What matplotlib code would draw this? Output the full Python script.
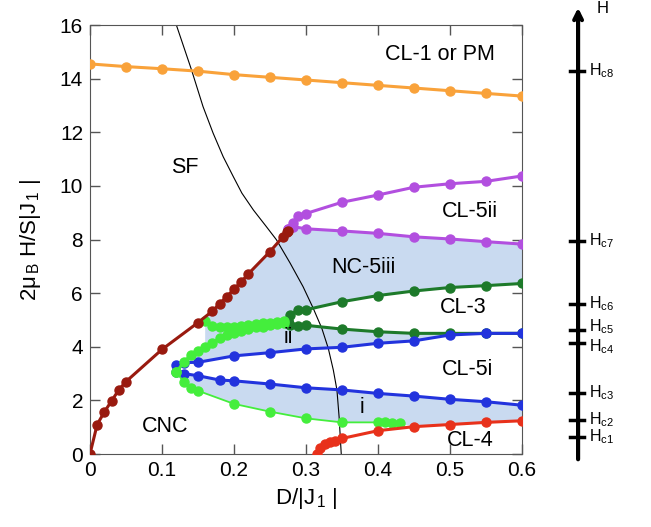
import numpy as np
import matplotlib
matplotlib.use("Agg")
import matplotlib.pyplot as plt

plt.rcParams['font.family'] = ['Liberation Sans', 'DejaVu Sans']
plt.rcParams['mathtext.fontset'] = 'custom'
plt.rcParams['mathtext.rm'] = 'Liberation Sans'
plt.rcParams['mathtext.it'] = 'Liberation Sans'

# ---- data ----
orange_x = [0, 0.05, 0.1, 0.15, 0.2, 0.25, 0.3, 0.35, 0.4, 0.45, 0.5, 0.55, 0.6]
orange_y = [14.55, 14.45, 14.37, 14.28, 14.15, 14.05, 13.95, 13.85, 13.75, 13.65, 13.55, 13.45, 13.35]

brown_x = [0, 0.01, 0.02, 0.03, 0.04, 0.05, 0.1, 0.15, 0.17, 0.18, 0.19, 0.2, 0.21, 0.22, 0.25, 0.268, 0.273, 0.275]
brown_y = [0, 1.1, 1.57, 1.98, 2.39, 2.7, 3.9, 4.9, 5.33, 5.6, 5.87, 6.15, 6.42, 6.72, 7.55, 8.1, 8.27, 8.33]

purple_top_x = [0.275, 0.282, 0.289, 0.3, 0.35, 0.4, 0.45, 0.5, 0.55, 0.6]
purple_top_y = [8.4, 8.6, 8.86, 8.97, 9.39, 9.66, 9.95, 10.08, 10.17, 10.37]
purple_low_x = [0.275, 0.282, 0.3, 0.35, 0.4, 0.45, 0.5, 0.55, 0.6]
purple_low_y = [8.4, 8.48, 8.4, 8.32, 8.23, 8.1, 8.02, 7.92, 7.83]

dgreen_top_x = [0.275, 0.278, 0.289, 0.3, 0.35, 0.4, 0.45, 0.5, 0.55, 0.6]
dgreen_top_y = [4.97, 5.19, 5.37, 5.38, 5.68, 5.91, 6.08, 6.21, 6.28, 6.36]
dgreen_low_x = [0.275, 0.278, 0.289, 0.3, 0.35, 0.4, 0.45, 0.5, 0.55, 0.6]
dgreen_low_y = [4.97, 4.81, 4.78, 4.8, 4.66, 4.56, 4.5, 4.5, 4.5, 4.5]

blue_up_x = [0.12, 0.13, 0.15, 0.2, 0.25, 0.3, 0.35, 0.4, 0.45, 0.5, 0.55, 0.6]
blue_up_y = [3.32, 3.41, 3.42, 3.66, 3.78, 3.92, 3.98, 4.13, 4.22, 4.44, 4.5, 4.5]
blue_low_x = [0.12, 0.13, 0.15, 0.18, 0.2, 0.25, 0.3, 0.35, 0.4, 0.45, 0.5, 0.55, 0.6]
blue_low_y = [3.05, 3.0, 2.92, 2.76, 2.73, 2.61, 2.47, 2.39, 2.26, 2.16, 2.04, 1.95, 1.82]

lgreen_top_x = [0.16, 0.17, 0.18, 0.19, 0.2, 0.21, 0.22, 0.23, 0.24, 0.25, 0.26, 0.27]
lgreen_top_y = [4.97, 4.79, 4.75, 4.72, 4.75, 4.77, 4.8, 4.84, 4.87, 4.9, 4.93, 4.97]
lgreen_mid_x = [0.12, 0.13, 0.14, 0.15, 0.16, 0.17, 0.18, 0.19, 0.2, 0.21, 0.22, 0.23, 0.24, 0.25, 0.26, 0.27]
lgreen_mid_y = [3.05, 3.42, 3.69, 3.84, 4.0, 4.15, 4.31, 4.44, 4.53, 4.6, 4.66, 4.72, 4.75, 4.8, 4.85, 4.9]
lgreen_low_x = [0.12, 0.13, 0.14, 0.15, 0.2, 0.25, 0.3, 0.35, 0.4, 0.41, 0.42, 0.43]
lgreen_low_y = [3.05, 2.7, 2.45, 2.36, 1.87, 1.58, 1.33, 1.18, 1.18, 1.18, 1.14, 1.14]

red_x = [0.316, 0.319, 0.326, 0.333, 0.34, 0.35, 0.4, 0.45, 0.5, 0.55, 0.6]
red_y = [0.0, 0.22, 0.36, 0.43, 0.48, 0.58, 0.87, 1.02, 1.1, 1.18, 1.24]

sf_x = [0.12, 0.141, 0.157, 0.171, 0.185, 0.199, 0.211, 0.227, 0.245, 0.259, 0.278,
        0.296, 0.31, 0.322, 0.331, 0.338, 0.343, 0.346, 0.349]
sf_y = [16.0, 14.33, 12.96, 11.97, 11.09, 10.35, 9.73, 9.1, 8.48, 7.99, 7.12,
        6.24, 5.44, 4.69, 3.94, 3.13, 2.39, 1.39, 0.0]

hc_names = ['c1', 'c2', 'c3', 'c4', 'c5', 'c6', 'c7', 'c8']
hc_vals = [0.63, 1.27, 2.28, 4.14, 4.63, 5.6, 7.95, 14.29]
hc_label_shift = [0, 0, 0, -0.15, 0.12, 0, 0, 0]

region_labels = ['CL-1 or PM', 'SF', 'CL-5ii', 'NC-5iii', 'CL-3', 'ii', 'CL-5i', 'i', 'CNC', 'CL-4']
region_x = [0.486, 0.132, 0.528, 0.38, 0.518, 0.275, 0.524, 0.378, 0.104, 0.528]
region_y = [14.9, 10.67, 9.03, 6.94, 5.45, 4.33, 3.17, 1.72, 1.04, 0.52]

fig = plt.figure(figsize=(6.51, 5.27), dpi=100)
ax = fig.add_axes([0.1382, 0.1385, 0.6636, 0.8140])

shade = '#c9daf0'
# NC-5iii region
px = np.concatenate([brown_x[7:], purple_low_x, dgreen_top_x[::-1], lgreen_top_x[::-1]])
py = np.concatenate([brown_y[7:], purple_low_y, dgreen_top_y[::-1], lgreen_top_y[::-1]])
ax.fill(px, py, color=shade, lw=0, zorder=0)
# ii region
px = np.concatenate([lgreen_mid_x[:5], lgreen_top_x, dgreen_low_x[:-2], blue_up_x[:-2][::-1]])
py = np.concatenate([lgreen_mid_y[:5], lgreen_top_y, dgreen_low_y[:-2], blue_up_y[:-2][::-1]])
ax.fill(px, py, color=shade, lw=0, zorder=0)
# i region
px = np.concatenate([blue_low_x, red_x[7:][::-1], lgreen_low_x[::-1]])
py = np.concatenate([blue_low_y, red_y[7:][::-1], lgreen_low_y[::-1]])
ax.fill(px, py, color=shade, lw=0, zorder=0)

ax.plot(sf_x, sf_y, color='black', lw=0.8, zorder=1)

kw = dict(marker='o', ms=6.5, lw=2.2, zorder=3)
ax.plot(orange_x, orange_y, color='#f9a23a', **kw)
ax.plot(purple_top_x, purple_top_y, color='#b24fdf', **kw)
ax.plot(purple_low_x, purple_low_y, color='#b24fdf', **kw)
ax.plot(dgreen_top_x, dgreen_top_y, color='#1d7a2a', **kw)
ax.plot(dgreen_low_x, dgreen_low_y, color='#1d7a2a', **kw)
ax.plot(blue_up_x, blue_up_y, color='#2233dd', **kw)
ax.plot(blue_low_x, blue_low_y, color='#2233dd', **kw)
ax.plot(lgreen_top_x, lgreen_top_y, color='#44ee3c', **kw)
ax.plot(lgreen_mid_x, lgreen_mid_y, color='#44ee3c', **kw)
ax.plot(lgreen_low_x, lgreen_low_y, color='#44ee3c', marker='o', ms=6.5, lw=1.3, zorder=3)
ax.plot(red_x, red_y, color='#e8311b', **kw)
ax.plot(brown_x, brown_y, color='#991a0f', **kw)

for lab, x, y in zip(region_labels, region_x, region_y):
    ax.text(x, y, lab, fontsize=15.5, ha='center', va='center', zorder=4)

ax.set_xlim(0, 0.6)
ax.set_ylim(0, 16)
ax.set_xticks([0, 0.1, 0.2, 0.3, 0.4, 0.5, 0.6])
ax.set_xticklabels(['0', '0.1', '0.2', '0.3', '0.4', '0.5', '0.6'])
ax.set_yticks(range(0, 17, 2))
ax.tick_params(direction='in', top=True, right=True, length=7, width=1, color='#555555', labelsize=15, pad=5)
for s in ax.spines.values():
    s.set_color('#555555')
ax.set_xlabel(r'D/|J$_{\,1}$ |', fontsize=16, labelpad=4)
ax.set_ylabel(r'2$\mu_{\,B}$ H/S|J$_{\,1}$ |', fontsize=16, labelpad=12)

# field axis on the right
ax2 = fig.add_axes([0.86, 0.1385, 0.14, 0.8140])
ax2.set_xlim(0, 1)
ax2.set_ylim(0, 16)
ax2.axis('off')
ax2.annotate('', xy=(0.2, 16.75), xytext=(0.2, -0.3),
             arrowprops=dict(arrowstyle='->', lw=3, color='black', mutation_scale=14),
             annotation_clip=False)
ax2.text(0.4, 16.6, 'H', fontsize=12, va='center')
for name, v, dv in zip(hc_names, hc_vals, hc_label_shift):
    ax2.plot([0.11, 0.27], [v, v], color='black', lw=2.5, clip_on=False)
    ax2.text(0.32, v + dv, 'H$_{%s}$' % name, fontsize=11.5, va='center')

fig.savefig('out.png', dpi=100)
